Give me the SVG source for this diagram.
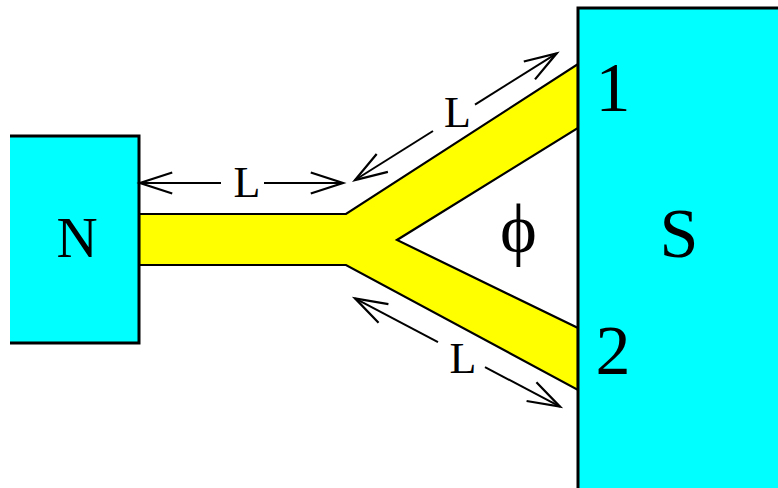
<svg xmlns="http://www.w3.org/2000/svg" width="778" height="488" viewBox="0 0 778 488">
<style>
.box{fill:#00ffff;stroke:none}
.edge{fill:none;stroke:#000;stroke-width:3}
.wire{fill:#ffff00;stroke:#000;stroke-width:2.2;stroke-linejoin:miter}
.dim{fill:none;stroke:#000;stroke-width:2;marker-end:url(#arr)}
text{font-family:"Liberation Serif","Times New Roman",serif;fill:#000;text-anchor:middle}
.big{font-size:70px}
.mid{font-size:57px}
.small{font-size:44px}
</style>
<defs>
<marker id="arr" markerUnits="userSpaceOnUse" markerWidth="40" markerHeight="30" viewBox="-32 -12 36 24" refX="0" refY="0" orient="auto">
<path d="M-29,-9.5 L0,0 L-29,9.5" fill="none" stroke="#000" stroke-width="2"/>
</marker>
</defs>
<g id="wire">
<path class="wire" d="M139,214 L346,214 L578,64 L578,128 L397,240 L578,328 L578,390 L346,265 L139,265 Z"/>
</g>
<g id="N">
<rect class="box" x="10" y="136" width="129" height="207"/>
<path class="edge" d="M10,136 L139,136 L139,343 L10,343"/>
<text class="mid" x="77" y="257">N</text>
</g>
<g id="S">
<rect class="box" x="578" y="8" width="205" height="485"/>
<path class="edge" d="M790,8 L578,8 L578,495"/>
<text class="big" x="679" y="257">S</text>
<text class="big" x="613" y="111">1</text>
<text class="big" x="613" y="374">2</text>
</g>
<g id="connectors">
<line class="dim" x1="221" y1="183" x2="140" y2="183"/>
<line class="dim" x1="264" y1="183" x2="343" y2="183"/>
<line class="dim" x1="433" y1="131" x2="355" y2="180"/>
<line class="dim" x1="475" y1="104.6" x2="556.7" y2="53.3"/>
<line class="dim" x1="438" y1="342.2" x2="355" y2="298.3"/>
<line class="dim" x1="485" y1="367.1" x2="560" y2="406.7"/>
</g>
<g id="labels">
<text class="small" x="247" y="197">L</text>
<text class="small" x="457.5" y="127">L</text>
<text class="small" x="463" y="373">L</text>
<text class="big" x="518.5" y="252">ϕ</text>
</g>
</svg>
